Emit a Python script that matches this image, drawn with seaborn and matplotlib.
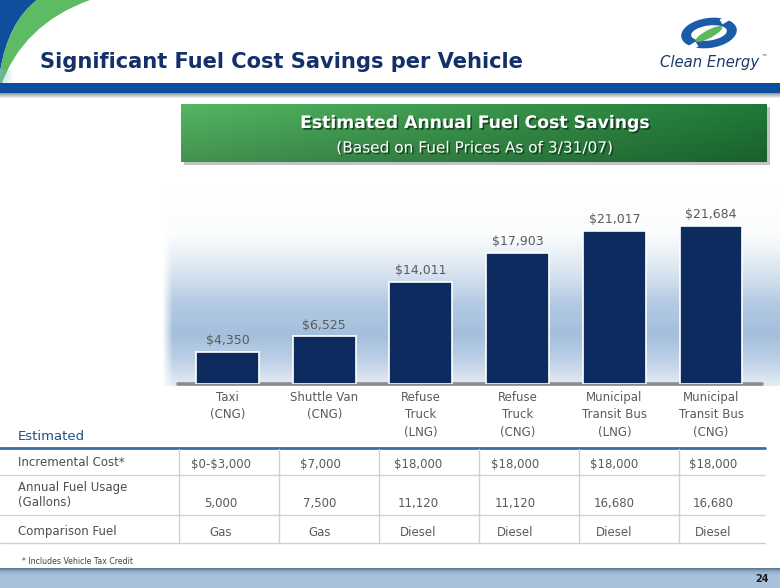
import numpy as np
import pandas as pd
import seaborn as sns
import matplotlib
matplotlib.use("Agg")
import matplotlib.pyplot as plt
import matplotlib.patheffects as pe
from matplotlib.patches import Rectangle, Ellipse, PathPatch
from matplotlib.path import Path
from matplotlib.colors import to_rgb

# ---------------- data ----------------
vehicles = ["Taxi\n(CNG)", "Shuttle Van\n(CNG)", "Refuse\nTruck\n(LNG)",
            "Refuse\nTruck\n(CNG)", "Municipal\nTransit Bus\n(LNG)",
            "Municipal\nTransit Bus\n(CNG)"]
savings = [4350, 6525, 14011, 17903, 21017, 21684]
incremental_cost = ["$0-$3,000", "$7,000", "$18,000", "$18,000", "$18,000", "$18,000"]
fuel_usage = ["5,000", "7,500", "11,120", "11,120", "16,680", "16,680"]
comparison_fuel = ["Gas", "Gas", "Diesel", "Diesel", "Diesel", "Diesel"]
row_labels = ["Incremental Cost*", "Annual Fuel Usage\n(Gallons)", "Comparison Fuel"]

title = "Significant Fuel Cost Savings per Vehicle"
banner_title = "Estimated Annual Fuel Cost Savings"
banner_sub = "(Based on Fuel Prices As of 3/31/07)"
footnote = "* Includes Vehicle Tax Credit"
page_no = "24"

df = pd.DataFrame({"vehicle": vehicles, "savings": savings})

# ---------------- figure ----------------
sns.set_theme(style="white")
plt.rcParams["font.family"] = ["DejaVu Sans"]
W, H = 780, 588
fig = plt.figure(figsize=(7.8, 5.88), dpi=100)
bg = fig.add_axes([0, 0, 1, 1])
bg.set_xlim(0, W)
bg.set_ylim(H, 0)
bg.axis("off")


def grad_rows(ys, cols, y0, y1):
    n = int(y1 - y0)
    yy = np.linspace(y0, y1, n)
    rgb = np.array([to_rgb(c) for c in cols])
    out = np.stack([np.interp(yy, ys, rgb[:, k]) for k in range(3)], axis=1)
    return out


renderer = fig.canvas.get_renderer()


def fit(t, width):
    fs = t.get_fontsize()
    w = t.get_window_extent(renderer).width
    t.set_fontsize(fs * width / w)


# ---- top swoosh decoration ----
blue_path = Path([(0, 0), (37, 0), (8, 22), (0, 72), (0, 0)],
                 [Path.MOVETO, Path.LINETO, Path.CURVE3, Path.CURVE3, Path.CLOSEPOLY])
bg.add_patch(PathPatch(blue_path, fc="#0d4f9c", ec="none", zorder=1))
green_path = Path([(37, 0), (90, 0), (22, 24), (0, 88), (0, 72), (8, 22), (37, 0), (37, 0)],
                  [Path.MOVETO, Path.LINETO, Path.CURVE3, Path.CURVE3, Path.LINETO,
                   Path.CURVE3, Path.CURVE3, Path.CLOSEPOLY])
bg.add_patch(PathPatch(green_path, fc="#5dbb63", ec="none", zorder=1))
fade = np.ones((30, 14, 4))
fade[..., :3] = to_rgb("#7fb2c8")
fade[..., 3] = np.linspace(0.6, 0.0, 30)[:, None] * np.linspace(1, 0, 14)[None, :]
bg.imshow(fade, extent=(0, 14, 100, 70), aspect="auto", zorder=1)

# ---- title ----
t = bg.text(40, 62, title, fontsize=18, fontweight="bold", color="#13306b",
            va="center", ha="left", zorder=3)
fit(t, 485)

# ---- logo ----
bg.add_patch(Ellipse((709, 33), 56, 30, angle=-8, fc="#1a5ca8", ec="none", zorder=2))
bg.add_patch(Ellipse((709, 33), 36, 15, angle=-8, fc="white", ec="none", zorder=3))
bg.plot([721, 738], [22, 12], color="white", lw=4, zorder=4, solid_capstyle="butt")
bg.plot([680, 697], [54, 44], color="white", lw=4, zorder=4, solid_capstyle="butt")
bg.add_patch(Ellipse((709, 34), 30, 8, angle=-28, fc="#5cb85c", ec="none", zorder=5))
t = bg.text(710, 62, "Clean Energy", fontsize=12, style="italic", color="#1d3a6a",
            ha="center", va="center", zorder=3)
fit(t, 99)
bg.text(761, 57, "\u2122", fontsize=4, color="#1d3a6a", ha="left", va="center")

# ---- header band ----
bg.add_patch(Rectangle((0, 83), W, 10, fc="#0b4e9e", ec="none", zorder=2))
sh = grad_rows([93, 99], ["#9b9b9b", "#ffffff"], 93, 99)
bg.imshow(np.repeat(sh[:, None, :], 2, axis=1), extent=(0, W, 99, 93), aspect="auto", zorder=1)

# ---- green banner ----
bg.add_patch(Rectangle((184, 107), 586, 58, fc="#a8a8a8", ec="none", zorder=1, alpha=0.7))
hx = np.linspace(0, 1, 300)
left_c, right_c = np.array(to_rgb("#4da65a")), np.array(to_rgb("#1d6e33"))
row = left_c[None, :] * (1 - hx[:, None]) + right_c[None, :] * hx[:, None]
vy = np.linspace(1.10, 0.88, 58)[:, None, None]
ban = np.clip(row[None, :, :] * vy, 0, 1)
bg.imshow(ban, extent=(181, 767, 162, 104), aspect="auto", zorder=2)
shadow = [pe.withSimplePatchShadow(offset=(1.2, -1.2), shadow_rgbFace="#0b2a12", alpha=0.7)]
t = bg.text(475.5, 123, banner_title, fontsize=13, fontweight="bold", color="white",
            ha="center", va="center", zorder=3, path_effects=shadow)
fit(t, 347)
t = bg.text(475, 148, banner_sub, fontsize=11, color="white",
            ha="center", va="center", zorder=3, path_effects=shadow)
fit(t, 277)

# ---- chart background gradient ----
g = grad_rows([190, 235, 270, 305, 335, 360, 386],
              ["#ffffff", "#fafcfd", "#dbe6f1", "#b2c9e2", "#a4bfdc", "#bdd0e6", "#e4ecf5"],
              190, 386)
img = np.repeat(g[:, None, :], 618, axis=1)
ramp = np.clip(np.linspace(0, 1, 618) * 60, 0, 1)
img = img * ramp[None, :, None] + (1 - ramp[None, :, None])
bg.imshow(img, extent=(162, 780, 386, 190), aspect="auto", zorder=1)

# ---- bar chart ----
ax = fig.add_axes([162 / W, 1 - 384 / H, 618 / W, 194 / H])
ax.set_facecolor("none")
sns.barplot(data=df, x="vehicle", y="savings", color="#0e2b60", width=0.65,
            edgecolor="white", linewidth=1.2, saturation=1, ax=ax, zorder=3)
ax.set_xlim(-0.677, 5.713)
ax.set_ylim(0, 26578)
for s in ax.spines.values():
    s.set_visible(False)
ax.set_yticks([])
ax.set_xlabel("")
ax.set_ylabel("")
ax.tick_params(axis="x", length=0, pad=5, labelsize=8.5, labelcolor="#5a5a5a")
for lab in ax.get_xticklabels():
    lab.set_linespacing(1.45)
ax.axhline(0, xmin=0.026, xmax=0.971, color="#8c8c8c", lw=2.6, zorder=2, clip_on=False)
ax.bar_label(ax.containers[0], labels=[f"${v:,}" for v in savings], padding=3.5,
             color="#5a5a5a", fontsize=9)

# ---- table ----
bg.text(18, 436, "Estimated", fontsize=9.5, color="#1f4e8c", va="center", ha="left")
bg.plot([0, 765], [448, 448], color="#3b6ea6", lw=2, zorder=2)
for yl in [474.5, 515, 543]:
    bg.plot([0, 765], [yl, yl], color="#c9d3de", lw=1, zorder=2)
for xv in [179, 279, 379, 479, 579, 679]:
    bg.plot([xv, xv], [449, 543], color="#c9d3de", lw=1, zorder=2)
col_x = [221, 320, 418, 515, 614, 713]
row_y_label = [463, 495, 532]
row_y_val = [464, 503, 532]
for lbl, yv in zip(row_labels, row_y_label):
    bg.text(18, yv, lbl, fontsize=8.5, color="#4d4d4d", va="center", ha="left",
            linespacing=1.25)
for vals, yv in zip([incremental_cost, fuel_usage, comparison_fuel], row_y_val):
    for xv, v in zip(col_x, vals):
        bg.text(xv, yv, v, fontsize=8.5, color="#5a5a5a", va="center", ha="center",
                parse_math=False)

# ---- footnote ----
t = bg.text(22, 562, footnote, fontsize=6, color="#404040", va="center", ha="left")
fit(t, 111)

# ---- bottom band ----
bb = grad_rows([568, 571, 575, 588], ["#5f7893", "#93adc9", "#a7c1dd", "#a7c1dd"], 568, 588)
bg.imshow(np.repeat(bb[:, None, :], 2, axis=1), extent=(0, W, 588, 568), aspect="auto", zorder=1)
bg.text(762, 579, page_no, fontsize=7, fontweight="bold", color="#1a1a1a",
        ha="center", va="center")

bg.set_xlim(0, W)
bg.set_ylim(H, 0)
fig.savefig("out.png", dpi=100)
